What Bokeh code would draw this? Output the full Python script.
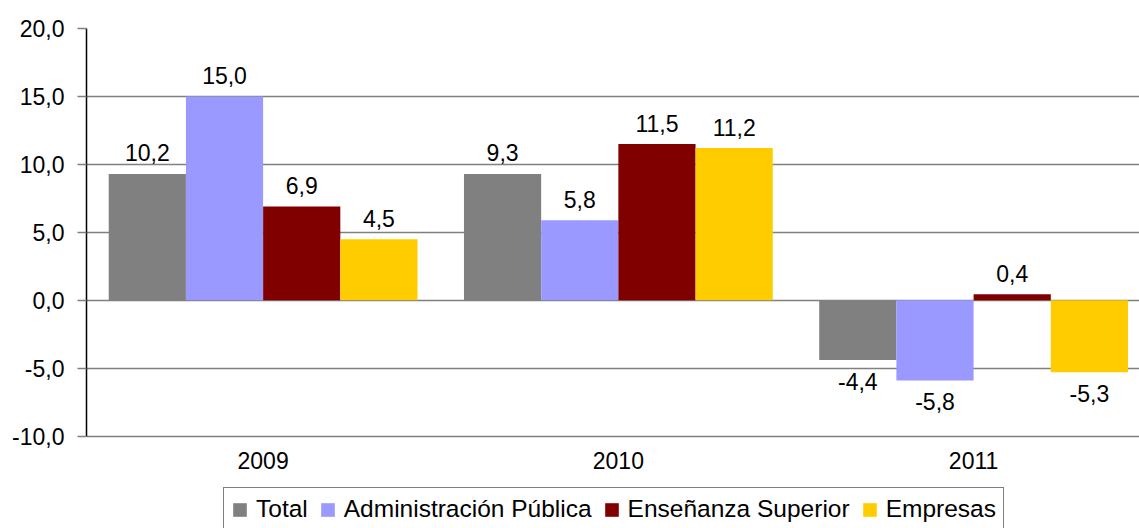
from bokeh.plotting import figure
from bokeh.models import (ColumnDataSource, Range1d, FixedTicker, CustomJSTickFormatter,
                          Legend, LegendItem)
from bokeh.transform import dodge
from bokeh.core.properties import value
from bokeh.embed import file_html
from bokeh.resources import INLINE

# ---- data ----
years = ["2009", "2010", "2011"]
series_names = ["Total", "Administración Pública", "Enseñanza Superior", "Empresas"]
total = [9.3, 9.3, -4.4]
administracion = [15.0, 5.9, -5.9]
ensenanza = [6.9, 11.5, 0.45]
empresas = [4.5, 11.2, -5.3]
total_labels = ["10,2", "9,3", "-4,4"]
administracion_labels = ["15,0", "5,8", "-5,8"]
ensenanza_labels = ["6,9", "11,5", "0,4"]
empresas_labels = ["4,5", "11,2", "-5,3"]
colors = ["#808080", "#9999FF", "#800000", "#FFCC00"]
y_ticks = [-10, -5, 0, 5, 10, 15, 20]

FONT = "Liberation Sans"
x_pos = [i + 0.5 for i in range(len(years))]
bar_w = 0.2173
offsets = [-1.5 * bar_w, -0.5 * bar_w, 0.5 * bar_w, 1.5 * bar_w]
y_min, y_max = y_ticks[0], y_ticks[-1]

# frame runs to the bottom of the canvas; the visible axis stops at y_min
p = figure(width=1139, height=528, output_backend="svg", toolbar_location=None,
           x_range=Range1d(0.0028, 2.967), y_range=Range1d(-16.79, y_max),
           x_axis_location=None,
           min_border_left=86, min_border_right=0, min_border_top=28,
           min_border_bottom=0)
p.outline_line_color = None
p.background_fill_color = "white"
p.border_fill_color = "white"

values = [total, administracion, ensenanza, empresas]
labels = [total_labels, administracion_labels, ensenanza_labels, empresas_labels]
items = []
for name, vals, labs, col, off in zip(series_names, values, labels, colors, offsets):
    src = ColumnDataSource(dict(x=x_pos, top=vals, lab=labs))
    r = p.vbar(x=dodge("x", off, range=p.x_range), top="top", bottom=0, width=bar_w,
               source=src, fill_color=col, line_color=None)
    items.append(LegendItem(label=name, renderers=[r]))
    pos = dict(x=[], y=[], lab=[])
    neg = dict(x=[], y=[], lab=[])
    for xx, v, l in zip(x_pos, vals, labs):
        d = pos if v >= 0 else neg
        d["x"].append(xx + off)
        d["y"].append(v)
        d["lab"].append(l)
    p.text(x="x", y="y", text="lab", source=ColumnDataSource(pos), text_align="center",
           text_baseline="middle", y_offset=-21, text_font=value(FONT),
           text_font_size="23px", text_color="black")
    p.text(x="x", y="y", text="lab", source=ColumnDataSource(neg), text_align="center",
           text_baseline="middle", y_offset=21, text_font=value(FONT),
           text_font_size="23px", text_color="black")

# category labels under the bottom gridline
p.text(x="x", y="y", text="t",
       source=ColumnDataSource(dict(x=x_pos, y=[y_min] * len(years), t=years)),
       text_align="center", text_baseline="middle", y_offset=24,
       text_font=value(FONT), text_font_size="23px", text_color="black")

# grid and y axis
p.xgrid.grid_line_color = None
p.ygrid.grid_line_color = "#808080"
p.ygrid.grid_line_width = 1.5
p.ygrid.ticker = FixedTicker(ticks=y_ticks)

p.yaxis.ticker = FixedTicker(ticks=y_ticks)
p.yaxis.bounds = (y_min, y_max)
p.yaxis.formatter = CustomJSTickFormatter(code="return tick.toFixed(1).replace('.', ',');")
p.yaxis.axis_line_color = "black"
p.yaxis.axis_line_width = 1.5
p.yaxis.major_tick_out = 9
p.yaxis.major_tick_in = 0
p.yaxis.major_tick_line_color = "#808080"
p.yaxis.major_tick_line_width = 1.5
p.yaxis.minor_tick_line_color = None
p.yaxis.major_label_standoff = 13
p.yaxis.major_label_text_font = FONT
p.yaxis.major_label_text_font_size = "23px"
p.yaxis.major_label_text_color = "black"

legend = Legend(items=items, orientation="horizontal", location=(137, -3),
                label_text_font=FONT, label_text_font_size="24.5px",
                label_text_color="black", glyph_width=17, glyph_height=17,
                label_standoff=8, spacing=11, padding=7, margin=0,
                border_line_color="black", border_line_width=1,
                background_fill_color="white", background_fill_alpha=1)
p.add_layout(legend, "center")

open("out.html", "w").write(file_html(p, INLINE))
